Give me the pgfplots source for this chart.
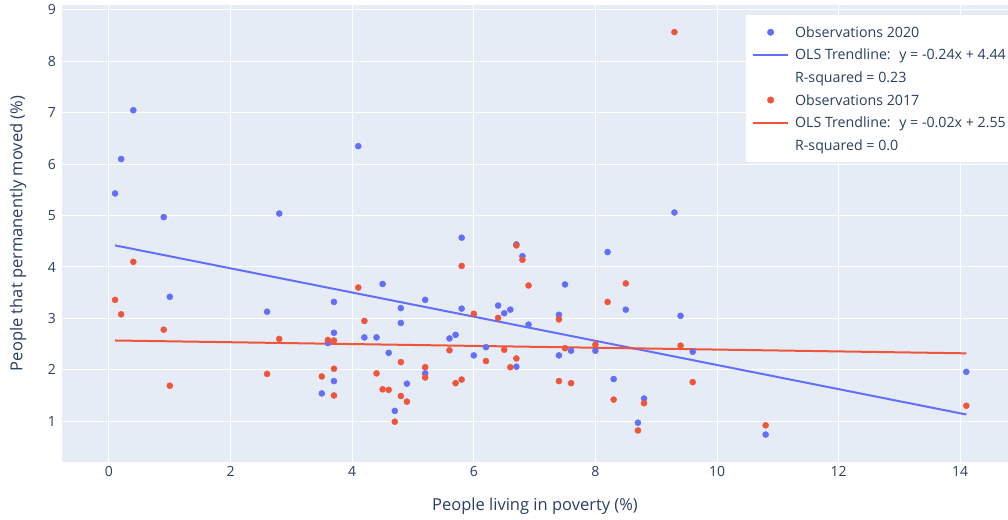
\documentclass[border=0pt]{standalone}
\usepackage{fontspec}
\setmainfont{Open Sans}
\usepackage{pgfplots}
\usepackage{pgfplotstable}
\pgfplotsset{compat=1.18}
\definecolor{pblue}{HTML}{636EFA}
\definecolor{pred}{HTML}{EF553B}
\definecolor{pbg}{HTML}{E5ECF6}
\definecolor{ptext}{HTML}{2A3F5F}

\pgfplotstableread{
x y
0.1 5.43
0.2 6.10
0.4 7.05
0.9 4.97
1.0 3.42
2.6 3.13
2.8 5.04
3.5 1.54
3.6 2.52
3.7 3.32
3.7 2.72
3.7 1.78
4.1 6.35
4.2 2.63
4.4 2.63
4.5 3.67
4.6 2.33
4.7 1.20
4.8 3.20
4.8 2.91
4.9 1.73
5.2 3.36
5.2 1.93
5.6 2.61
5.7 2.68
5.8 4.57
5.8 3.19
6.0 2.28
6.2 2.44
6.4 3.25
6.5 3.10
6.6 3.17
6.7 4.44
6.7 2.06
6.8 4.21
6.9 2.88
7.4 3.07
7.4 2.28
7.5 3.66
7.6 2.37
8.0 2.37
8.2 4.29
8.3 1.82
8.5 3.17
8.7 0.97
8.8 1.44
9.3 5.06
9.4 3.05
9.6 2.35
10.8 0.74
14.1 1.96
}\obsA

\pgfplotstableread{
x y
0.1 3.36
0.2 3.08
0.4 4.10
0.9 2.78
1.0 1.69
2.6 1.92
2.8 2.60
3.5 1.87
3.6 2.58
3.7 2.57
3.7 2.02
3.7 1.50
4.1 3.60
4.2 2.95
4.4 1.93
4.5 1.62
4.6 1.61
4.7 0.99
4.8 2.15
4.8 1.49
4.9 1.38
5.2 2.05
5.2 1.85
5.6 2.38
5.7 1.74
5.8 4.02
5.8 1.81
6.0 3.09
6.2 2.17
6.4 3.01
6.5 2.39
6.6 2.05
6.7 4.42
6.7 2.22
6.8 4.14
6.9 3.64
7.4 2.98
7.4 1.78
7.5 2.42
7.6 1.74
8.0 2.49
8.2 3.32
8.3 1.42
8.5 3.68
8.7 0.82
8.8 1.35
9.3 8.57
9.4 2.47
9.6 1.76
10.8 0.92
14.1 1.30
}\obsB

\begin{document}
\begin{tikzpicture}
\begin{axis}[
  at={(62pt,57pt)}, anchor=south west,
  scale only axis, width=946pt, height=457pt,
  xmin=-0.773, xmax=14.786, ymin=0.206, ymax=9.097,
  axis background/.style={fill=pbg},
  axis line style={draw=none},
  major tick length=0pt,
  grid=major, major grid style={white, line width=1pt},
  xtick={0,2,...,14}, ytick={1,2,...,9},
  tick label style={font=\fontsize{14}{16}\selectfont, text=ptext},
  /pgf/number format/assume math mode=true,
  xticklabel style={inner sep=0pt, anchor=north, yshift=-4.5pt},
  yticklabel style={inner sep=0pt, anchor=east, xshift=-6pt},
  label style={font=\fontsize{16.5}{19}\selectfont, text=ptext},
  xlabel={People living in poverty (\%)},
  ylabel={People that permanently moved (\%)},
  xlabel style={at={(axis description cs:0.5,-0.097)}, anchor=center},
  ylabel style={at={(axis description cs:-0.0465,0.5)}, anchor=center},
  legend cell align=left,
  legend style={at={(axis description cs:1.0042,0.978)}, anchor=north east,
    fill=white, draw=none, font=\fontsize{14.2}{16}\selectfont, text=ptext,
    inner xsep=6pt, inner ysep=10pt, row sep=8.6pt,
    nodes={inner sep=0pt, text height=12pt, text depth=2pt}},
]
\addplot[pblue, only marks, mark=*, mark size=3pt, mark options={pblue, line width=0.5pt},
  legend image code/.code={\path (0pt,0pt) (41pt,0pt); \fill[pblue] (17.5pt,0pt) circle (3.25pt);}]
  table[x=x,y=y]{\obsA};
\addlegendentry{Observations 2020}
\addplot[pblue, line width=2pt,
  legend image code/.code={\draw[pblue, line width=2pt] (0pt,0pt) -- (35pt,0pt); \path (41pt,0pt);}]
  coordinates {(0.1,4.42) (14.1,1.13)};
\addlegendentry{OLS Trendline:~ y = -0.24x + 4.44}
\addlegendimage{legend image code/.code={\path (0pt,0pt) (41pt,0pt);}}
\addlegendentry{R-squared = 0.23}
\addplot[pred, only marks, mark=*, mark size=3pt, mark options={pred, line width=0.5pt},
  legend image code/.code={\path (0pt,0pt) (41pt,0pt); \fill[pred] (17.5pt,0pt) circle (3.25pt);}]
  table[x=x,y=y]{\obsB};
\addlegendentry{Observations 2017}
\addplot[pred, line width=2pt,
  legend image code/.code={\draw[pred, line width=2pt] (0pt,0pt) -- (35pt,0pt); \path (41pt,0pt);}]
  coordinates {(0.1,2.57) (14.1,2.32)};
\addlegendentry{OLS Trendline:~ y = -0.02x + 2.55}
\addlegendimage{legend image code/.code={\path (0pt,0pt) (41pt,0pt);}}
\addlegendentry{R-squared = 0.0}
\end{axis}
\pgfresetboundingbox
\useasboundingbox (0,0) rectangle (1008pt,519pt);
\end{tikzpicture}
\end{document}
